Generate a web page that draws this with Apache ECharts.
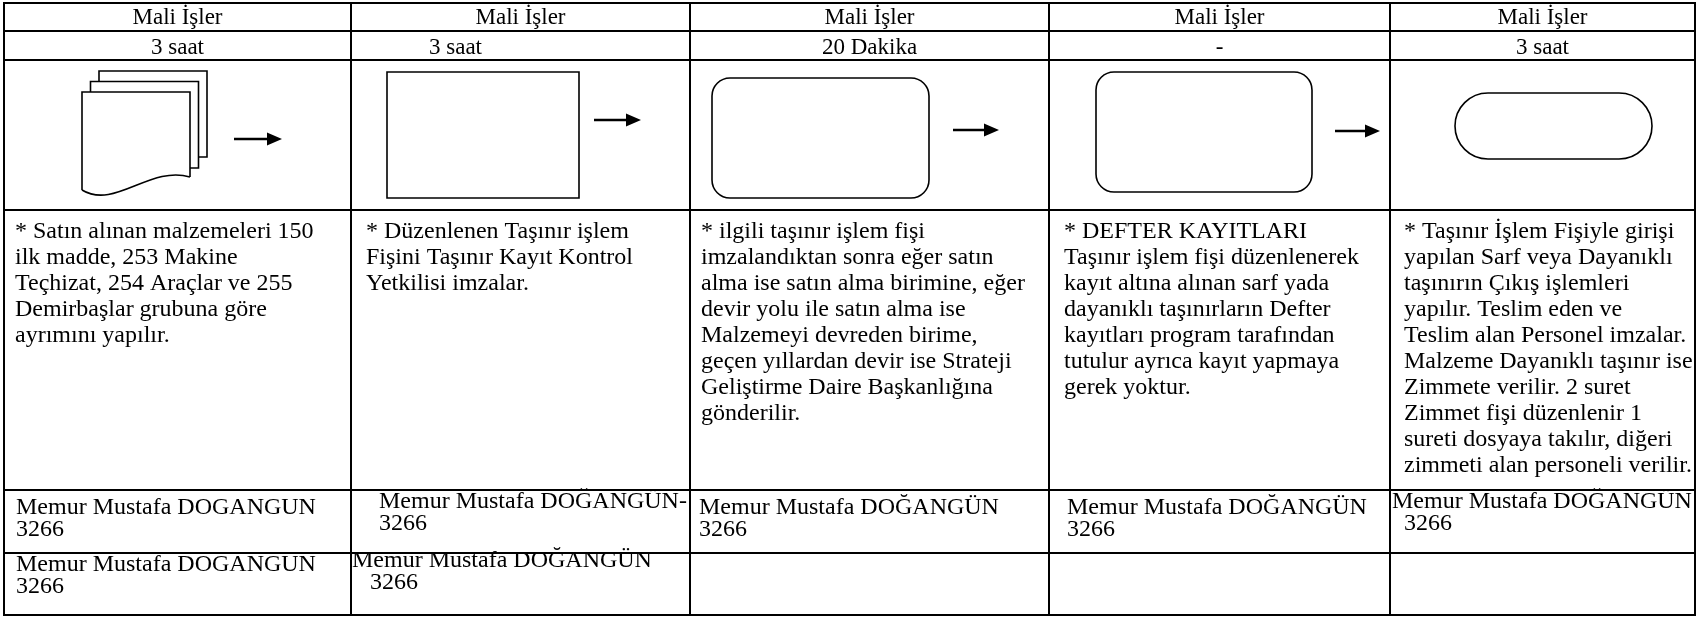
<!DOCTYPE html>
<html>
<head>
<meta charset="utf-8">
<script src="https://cdn.jsdelivr.net/npm/echarts@6/dist/echarts.min.js"></script>
<style>
  html, body { margin: 0; padding: 0; background: #ffffff; }
  #chart { width: 1700px; height: 619px; }
</style>
</head>
<body>
<div id="chart"></div>
<script>
// ---------------- DATA ----------------
const units = ['Mali İşler', 'Mali İşler', 'Mali İşler', 'Mali İşler', 'Mali İşler'];
const durations = ['3 saat', '3 saat', '20 Dakika', '-', '3 saat'];
const shapeTypes = ['multiDocument', 'process', 'alternateProcess', 'alternateProcess', 'terminator'];
const descriptions = [
  ['* Satın alınan malzemeleri 150', 'ilk madde, 253 Makine', 'Teçhizat, 254 Araçlar ve 255', 'Demirbaşlar grubuna göre', 'ayrımını yapılır.'],
  ['* Düzenlenen Taşınır işlem', 'Fişini Taşınır Kayıt Kontrol', 'Yetkilisi imzalar.'],
  ['* ilgili taşınır işlem fişi', 'imzalandıktan sonra eğer satın', 'alma ise satın alma birimine, eğer', 'devir yolu ile satın alma ise', 'Malzemeyi devreden birime,', 'geçen yıllardan devir ise Strateji', 'Geliştirme Daire Başkanlığına', 'gönderilir.'],
  ['* DEFTER KAYITLARI', 'Taşınır işlem fişi düzenlenerek', 'kayıt altına alınan sarf yada', 'dayanıklı taşınırların Defter', 'kayıtları program tarafından', 'tutulur ayrıca kayıt yapmaya', 'gerek yoktur.'],
  ['* Taşınır İşlem Fişiyle girişi', 'yapılan Sarf veya Dayanıklı', 'taşınırın Çıkış işlemleri', 'yapılır. Teslim eden ve', 'Teslim alan Personel imzalar.', 'Malzeme Dayanıklı taşınır ise', 'Zimmete verilir. 2 suret', 'Zimmet fişi düzenlenir 1', 'sureti dosyaya takılır, diğeri', 'zimmeti alan personeli verilir.']
];
const personsRow1 = [
  ['Memur Mustafa DOGANGUN', '3266'],
  ['Memur Mustafa DOĞANGÜN-', '3266'],
  ['Memur Mustafa DOĞANGÜN', '3266'],
  ['Memur Mustafa DOĞANGÜN', '3266'],
  ['Memur Mustafa DOĞANGÜN', '  3266']
];
const personsRow2 = [
  ['Memur Mustafa DOGANGUN', '3266'],
  ['Memur Mustafa DOĞANGÜN', '   3266'],
  [], [], []
];

// ---------------- LAYOUT (positions in axis units) ----------------
const colEdges = [4, 351, 690, 1049, 1390, 1695];
const rowEdges = [3, 31, 60, 210, 490, 553, 615];
const FONT = '"Liberation Serif", "Times New Roman", serif';
const FS = 24;
const FS_HEAD = 23;
const durationLayout = [null, { x: 429 }, null, null, null];
const descPad = [11, 15, 11, 15, 14];
const descFirstCenter = 232;
const descLineH = 26;
const person1Layout = [
  { x: 16, y: 508 }, { x: 379, y: 502 }, { x: 699, y: 508 }, { x: 1067, y: 508 }, { x: 1392, y: 502 }
];
const person2Layout = [
  { x: 16, y: 565 }, { x: 352, y: 561 }, null, null, null
];
const personLineH = 22;
const shapeBoxes = [
  { x: 82, y: 71, w: 125, h: 127 },
  { x: 387, y: 72, w: 192, h: 126 },
  { x: 712, y: 78, w: 217, h: 120 },
  { x: 1096, y: 72, w: 216, h: 120 },
  { x: 1455, y: 93, w: 197, h: 66 }
];
const arrows = [
  { x1: 234, x2: 282, y: 139 },
  { x1: 594, x2: 641, y: 120 },
  { x1: 953, x2: 999, y: 130 },
  { x1: 1335, x2: 1380, y: 131 },
  null
];

// ---------------- BUILD ITEMS ----------------
const cells = [];
for (let r = 0; r < rowEdges.length - 1; r++) {
  for (let c = 0; c < colEdges.length - 1; c++) cells.push([c, r]);
}

const textItems = [];
units.forEach((t, c) => textItems.push({ text: t, x: (colEdges[c] + colEdges[c + 1]) / 2, y: (rowEdges[0] + rowEdges[1]) / 2 + 1, align: 'center', lh: FS_HEAD, fs: FS_HEAD }));
durations.forEach((t, c) => {
  const L = durationLayout[c];
  textItems.push({ text: t, x: L ? L.x : (colEdges[c] + colEdges[c + 1]) / 2, y: (rowEdges[1] + rowEdges[2]) / 2 + 2, align: L ? 'left' : 'center', lh: FS_HEAD, fs: FS_HEAD });
});
descriptions.forEach((lines, c) => {
  textItems.push({ text: lines.join('\n'), x: colEdges[c] + descPad[c], y: descFirstCenter - descLineH / 2, align: 'left', valign: 'top', lh: descLineH });
});
personsRow1.forEach((lines, c) => {
  const L = person1Layout[c];
  if (L && lines.length) textItems.push({ text: lines.join('\n'), x: L.x, y: L.y - personLineH / 2, align: 'left', valign: 'top', lh: personLineH });
});
personsRow2.forEach((lines, c) => {
  const L = person2Layout[c];
  if (L && lines.length) textItems.push({ text: lines.join('\n'), x: L.x, y: L.y - personLineH / 2, align: 'left', valign: 'top', lh: personLineH });
});

// ---------------- CHART ----------------
const chart = echarts.init(document.getElementById('chart'), null, { renderer: 'canvas' });
const lineStyle = { stroke: '#000', fill: null, lineWidth: 1.6 };

function shapeRender(params, api) {
  const i = params.dataIndex;
  const b = shapeBoxes[i];
  const P = (x, y) => api.coord([x, y]);
  const children = [];
  const tl = P(b.x, b.y), br = P(b.x + b.w, b.y + b.h);
  const type = shapeTypes[i];
  if (type === 'multiDocument') {
    const x0 = b.x, y0 = b.y, off = 8.5, off2 = 10.5;
    const pw = b.w - 2 * off;
    // back page
    children.push({ type: 'polyline', shape: { points: [P(x0 + 2 * off, y0 + off2), P(x0 + 2 * off, y0), P(x0 + b.w, y0), P(x0 + b.w, y0 + 86), P(x0 + b.w - off, y0 + 86)] }, style: lineStyle });
    // middle page
    children.push({ type: 'polyline', shape: { points: [P(x0 + off, y0 + 2 * off2), P(x0 + off, y0 + off2), P(x0 + b.w - off, y0 + off2), P(x0 + b.w - off, y0 + 97), P(x0 + b.w - 2 * off, y0 + 97)] }, style: lineStyle });
    // front page
    const fx1 = x0 + pw, fy0 = y0 + 2 * off2;
    children.push({ type: 'polyline', shape: { points: [P(fx1, y0 + 106), P(fx1, fy0), P(x0, fy0), P(x0, y0 + 119)] }, style: lineStyle });
    const a = P(x0, y0 + 119), c1 = P(x0 + 33, y0 + 139), c2 = P(x0 + 68, y0 + 94), e = P(fx1, y0 + 106);
    children.push({ type: 'bezierCurve', shape: { x1: a[0], y1: a[1], cpx1: c1[0], cpy1: c1[1], cpx2: c2[0], cpy2: c2[1], x2: e[0], y2: e[1] }, style: lineStyle });
  } else {
    let r = 0;
    if (type === 'alternateProcess') r = 18;
    if (type === 'terminator') r = (br[1] - tl[1]) / 2;
    children.push({ type: 'rect', shape: { x: tl[0], y: tl[1], width: br[0] - tl[0], height: br[1] - tl[1], r: r }, style: lineStyle });
  }
  const ar = arrows[i];
  if (ar) {
    const s = P(ar.x1, ar.y), e = P(ar.x2, ar.y);
    children.push({ type: 'line', shape: { x1: s[0], y1: s[1], x2: e[0] - 12, y2: e[1] }, style: { stroke: '#000', lineWidth: 2.4 } });
    children.push({ type: 'polygon', shape: { points: [[e[0] - 15, e[1] - 6.5], [e[0], e[1]], [e[0] - 15, e[1] + 6.5]] }, style: { fill: '#000' } });
  }
  return { type: 'group', children: children };
}

const option = {
  animation: false,
  backgroundColor: '#ffffff',
  grid: { left: 0, right: 0, top: 0, bottom: 0 },
  xAxis: { type: 'value', min: 0, max: 1700, show: false },
  yAxis: { type: 'value', min: 0, max: 619, inverse: true, show: false },
  series: [
    {
      type: 'custom',
      name: 'cells',
      coordinateSystem: 'cartesian2d',
      clip: false,
      silent: true,
      data: cells,
      renderItem: function (params, api) {
        const c = api.value(0), r = api.value(1);
        const tl = api.coord([colEdges[c], rowEdges[r]]);
        const br = api.coord([colEdges[c + 1], rowEdges[r + 1]]);
        return { type: 'rect', shape: { x: tl[0], y: tl[1], width: br[0] - tl[0], height: br[1] - tl[1] }, style: { fill: null, stroke: '#000', lineWidth: 2 } };
      }
    },
    {
      type: 'custom',
      name: 'shapes',
      coordinateSystem: 'cartesian2d',
      clip: false,
      silent: true,
      data: shapeTypes.map((t, i) => [i, 0]),
      renderItem: shapeRender
    },
    {
      type: 'custom',
      name: 'texts',
      coordinateSystem: 'cartesian2d',
      clip: false,
      silent: true,
      data: textItems.map((t, i) => [i, 0]),
      renderItem: function (params, api) {
        const t = textItems[params.dataIndex];
        const p = api.coord([t.x, t.y]);
        return {
          type: 'text', x: p[0], y: p[1],
          style: {
            text: t.text, fill: '#000', fontFamily: FONT, fontSize: t.fs || FS,
            lineHeight: t.lh, align: t.align, verticalAlign: t.valign || 'middle'
          }
        };
      }
    }
  ]
};
chart.setOption(option);
</script>
</body>
</html>
